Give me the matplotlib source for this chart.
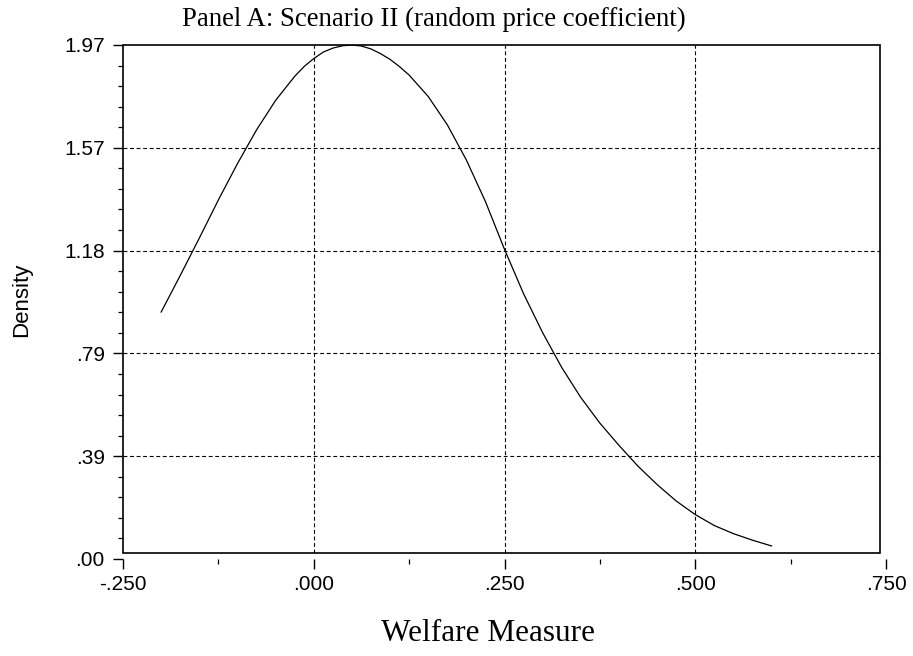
import matplotlib
matplotlib.use("Agg")
import matplotlib.pyplot as plt
from matplotlib.patches import Rectangle

# ---- data ----
welfare = [-0.200, -0.175, -0.150, -0.125, -0.100, -0.075, -0.050, -0.025,
           -0.0125, 0.000, 0.0125, 0.025, 0.0375, 0.050, 0.0625, 0.075,
           0.0875, 0.100, 0.1125, 0.125, 0.150, 0.175, 0.200,
           0.225, 0.250, 0.275, 0.300, 0.325, 0.350, 0.375, 0.400, 0.425,
           0.450, 0.475, 0.500, 0.525, 0.550, 0.575, 0.600]
density = [0.945, 1.085, 1.228, 1.374, 1.513, 1.642, 1.755, 1.847,
           1.885, 1.915, 1.940, 1.955, 1.964, 1.967, 1.963, 1.952,
           1.934, 1.912, 1.884, 1.852, 1.770, 1.662, 1.527,
           1.368, 1.185, 1.015, 0.866, 0.733, 0.618, 0.520, 0.435, 0.355,
           0.285, 0.222, 0.170, 0.128, 0.097, 0.072, 0.050]

x_ticks = [-0.25, 0.0, 0.25, 0.5, 0.75]
x_ticklabels = ["-.250", ".000", ".250", ".500", ".750"]
x_minor = [-0.125, 0.125, 0.375, 0.625]
y_max = 1.967
y_ticks = [0.0, 0.3934, 0.7868, 1.1802, 1.5736, 1.967]
y_ticklabels = [".00", ".39", ".79", "1.18", "1.57", "1.97"]
x_grid = [0.0, 0.25, 0.5]
y_grid = [0.3934, 0.7868, 1.1802, 1.5736]

title = "Panel A: Scenario II (random price coefficient)"
xlabel = "Welfare Measure"
ylabel = "Density"

W, H = 913, 656
fig = plt.figure(figsize=(W / 100, H / 100), dpi=100)
ax = fig.add_axes([123 / W, (H - 559) / H, 763 / W, (559 - 45) / H])

ax.set_xlim(-0.25, 0.75)
ax.set_ylim(0, y_max)
for s in ax.spines.values():
    s.set_visible(False)

frame_right = 757 / 763
frame_bottom = 6 / 514
ax.add_patch(Rectangle((0, frame_bottom), frame_right, 1 - frame_bottom,
                       transform=ax.transAxes, fill=False, edgecolor="black",
                       linewidth=1.2, zorder=3, clip_on=False))

dash = (0, (3.5, 2.4))
for gx in x_grid:
    ax.axvline(gx, ymin=frame_bottom, ymax=1, color="black", lw=0.8,
               linestyle=dash, zorder=1)
for gy in y_grid:
    ax.axhline(gy, xmin=0, xmax=frame_right, color="black", lw=0.8,
               linestyle=dash, zorder=1)

ax.plot(welfare, density, color="black", lw=0.9, zorder=2,
        solid_joinstyle="round")

ax.set_xticks(x_ticks)
ax.set_xticklabels(x_ticklabels)
ax.set_xticks(x_minor, minor=True)
ax.set_yticks(y_ticks)
ax.set_yticklabels(y_ticklabels)
ax.set_yticks([i * y_max / 25 for i in range(26) if i % 5 != 0], minor=True)

for lab in ax.get_xticklabels() + ax.get_yticklabels():
    lab.set_fontfamily(["Liberation Sans", "DejaVu Sans"])
    lab.set_fontsize(15)

ax.tick_params(axis="both", which="major", direction="out", length=7.2,
               width=1.0, color="black")
ax.tick_params(axis="both", which="minor", direction="out", length=3.6,
               width=0.9, color="black")
ax.tick_params(axis="x", which="major", pad=4)
ax.tick_params(axis="y", which="major", pad=6)

fig.text(434 / W, (H - 26) / H, title, ha="center", va="baseline",
         family=["Liberation Serif", "DejaVu Serif"], fontsize=19.3)
fig.text(488 / W, (H - 641) / H, xlabel, ha="center", va="baseline",
         family=["Liberation Serif", "DejaVu Serif"], fontsize=22.5)
fig.text(22 / W, (H - 300) / H, ylabel, ha="center", va="center",
         rotation=90, family=["Liberation Sans", "DejaVu Sans"], fontsize=16)

fig.savefig("out.png", dpi=100, facecolor="white")
